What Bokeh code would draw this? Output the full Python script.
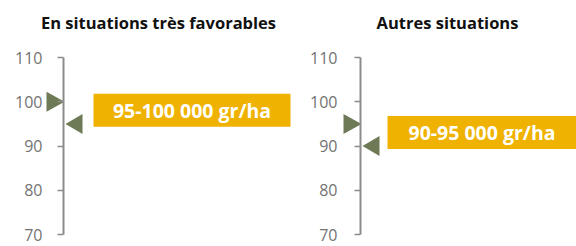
from bokeh.plotting import figure
from bokeh.models import Range1d, LinearAxis, FixedTicker
from bokeh.layouts import row
from bokeh.core.properties import value
from bokeh.embed import file_html
from bokeh.resources import INLINE

# ---- data ----
panel_titles = ["En situations très favorables", "Autres situations"]
high_values = [100, 95]
low_values = [95, 90]
range_labels = ["95-100 000 gr/ha", "90-95 000 gr/ha"]
tick_values = [70, 80, 90, 100, 110]

# ---- styling / layout ----
TRI_COLOR = "#6E7A55"
BOX_COLOR = "#EFB200"
AXIS_COLOR = "#8C8C8C"
LABEL_COLOR = "#737373"
FONT = "Open Sans"

H = 246
Y_TOP_PX = 57      # pixel row of the top tick inside the figure
Y_BOT_PX = 234     # pixel row of the bottom tick
BOX_SHIFT_PX = 2.5  # box sits slightly above the midpoint


def make_panel(title, hi, lo, label, width, axis_x, box_left, box_right, title_x, standoff):
    vmin, vmax = min(tick_values), max(tick_values)
    upp = (vmax - vmin) / (Y_BOT_PX - Y_TOP_PX)
    y_top = vmax + Y_TOP_PX * upp
    y_bot = vmin - (H - Y_BOT_PX) * upp
    p = figure(width=width, height=H, output_backend="svg", toolbar_location=None,
               x_range=Range1d(0, width), y_range=Range1d(y_bot, y_top),
               x_axis_location=None, y_axis_location=None,
               min_border=0, min_border_left=0, min_border_right=0,
               min_border_top=0, min_border_bottom=0)
    p.outline_line_color = None
    p.xgrid.visible = False
    p.ygrid.visible = False
    p.background_fill_color = "white"
    p.border_fill_color = "white"

    ax = LinearAxis(ticker=FixedTicker(ticks=tick_values), bounds=(vmin, vmax))
    ax.fixed_location = axis_x
    ax.axis_line_color = AXIS_COLOR
    ax.axis_line_width = 2
    ax.major_tick_line_color = AXIS_COLOR
    ax.major_tick_line_width = 1.5
    ax.major_tick_out = 6
    ax.major_tick_in = 0
    ax.minor_tick_line_color = None
    ax.major_label_text_color = LABEL_COLOR
    ax.major_label_text_font = FONT
    ax.major_label_text_font_size = "16px"
    ax.major_label_standoff = standoff
    p.add_layout(ax, "left")

    half = 10 * upp
    # right-pointing triangle at the high value (left of axis)
    # left-pointing triangle at the low value (right of axis)
    p.patches(xs=[[axis_x - 17, axis_x + 1, axis_x - 17], [axis_x + 2, axis_x + 19, axis_x + 19]],
              ys=[[hi - half, hi, hi + half], [lo, lo - half, lo + half]],
              fill_color=TRI_COLOR, line_color=None)

    mid = (hi + lo) / 2 + BOX_SHIFT_PX * upp
    p.rect(x=[(box_left + box_right) / 2], y=[mid], width=[box_right - box_left], height=33,
           height_units="screen", fill_color=BOX_COLOR, line_color=None)
    p.text(x=[(box_left + box_right) / 2], y=[mid], text=[label], text_align="center",
           text_baseline="middle", text_color="white", text_font=value(FONT),
           text_font_style="bold", text_font_size="19.5px")

    p.text(x=[title_x], y=[vmax + 35 * upp], text=[title], text_align="center",
           text_baseline="middle", text_color="#111111", text_font=value(FONT),
           text_font_style="bold", text_font_size="16.5px")
    return p


p1 = make_panel(panel_titles[0], high_values[0], low_values[0], range_labels[0],
                width=298, axis_x=63, box_left=93, box_right=290, title_x=158, standoff=15)
p2 = make_panel(panel_titles[1], high_values[1], low_values[1], range_labels[1],
                width=278, axis_x=62, box_left=89, box_right=278, title_x=149, standoff=17)

layout = row(p1, p2)
open("out.html", "w").write(file_html(layout, INLINE))
